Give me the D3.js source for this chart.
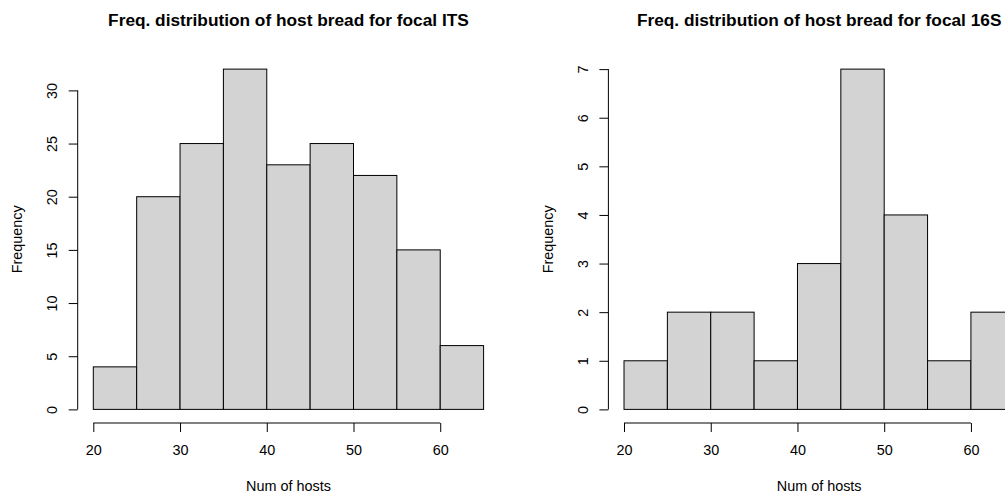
<!DOCTYPE html>
<html>
<head>
<meta charset="utf-8">
<script src="https://cdn.jsdelivr.net/npm/d3@7"></script>
<style>
  html, body { margin: 0; padding: 0; background: #ffffff; }
  svg { display: block; font-family: "Liberation Sans", Arial, Helvetica, sans-serif; }
</style>
</head>
<body>
<svg id="chart" width="1005" height="495"></svg>
<script>
// Histogram bins (lower edges, width 5) shared by both panels
const binStarts = [20, 25, 30, 35, 40, 45, 50, 55, 60];
const binWidth = 5;

// Counts per bin
const countsITS = [4, 20, 25, 32, 23, 25, 22, 15, 6];
const counts16S = [1, 2, 2, 1, 3, 7, 4, 1, 2];

// Axis ticks
const xTicks = [20, 30, 40, 50, 60];
const yTicksITS = [0, 5, 10, 15, 20, 25, 30];
const yTicks16S = [0, 1, 2, 3, 4, 5, 6, 7];

const titles = [
  "Freq. distribution of host bread for focal ITS",
  "Freq. distribution of host bread for focal 16S"
];
const xLabel = "Num of hosts";
const yLabel = "Frequency";

const svg = d3.select("#chart");
const fontSize = 14.4;

const panels = [
  { offset: 0, counts: countsITS, yTicks: yTicksITS, yMax: 32, title: titles[0] },
  { offset: 530.7, counts: counts16S, yTicks: yTicks16S, yMax: 7, title: titles[1] }
];

panels.forEach(p => {
  const left = 77.7 + p.offset, right = 499.2 + p.offset;
  const top = 55.5, bottom = 423;
  const xMin = 20, xMax = 65;
  const xPad = (xMax - xMin) * 0.04, yPad = p.yMax * 0.04;

  const x = d3.scaleLinear().domain([xMin - xPad, xMax + xPad]).range([left, right]);
  const y = d3.scaleLinear().domain([-yPad, p.yMax + yPad]).range([bottom, top]);

  const g = svg.append("g");

  // bars
  g.selectAll("rect.bar")
    .data(binStarts.map((s, i) => ({ x0: s, x1: s + binWidth, n: p.counts[i] })))
    .join("rect")
    .attr("class", "bar")
    .attr("x", d => x(d.x0))
    .attr("width", d => x(d.x1) - x(d.x0))
    .attr("y", d => y(d.n))
    .attr("height", d => y(0) - y(d.n))
    .attr("fill", "#d3d3d3")
    .attr("stroke", "#000")
    .attr("stroke-width", 1);

  // x axis
  const xAxis = d3.axisBottom(x).tickValues(xTicks).tickSize(9).tickSizeOuter(0).tickPadding(13);
  const gx = g.append("g").attr("transform", `translate(0,${bottom})`).call(xAxis);
  gx.select(".domain").attr("d", `M${x(xTicks[0])},0H${x(xTicks[xTicks.length - 1])}`);
  gx.selectAll("text").attr("font-size", fontSize).attr("font-family", null).attr("fill", "#000");
  gx.selectAll("line, path").attr("stroke", "#000");

  // y axis with rotated labels
  const yAxis = d3.axisLeft(y).tickValues(p.yTicks).tickSize(9).tickSizeOuter(0);
  const gy = g.append("g").attr("transform", `translate(${left},0)`).call(yAxis);
  gy.select(".domain").attr("d", `M0,${y(p.yTicks[0])}V${y(p.yTicks[p.yTicks.length - 1])}`);
  gy.selectAll("text")
    .attr("x", null).attr("dy", null)
    .attr("transform", "translate(-20.2,0) rotate(-90)")
    .attr("text-anchor", "middle")
    .attr("font-size", fontSize).attr("font-family", null).attr("fill", "#000");
  gy.selectAll("line, path").attr("stroke", "#000");

  // title
  g.append("text")
    .attr("x", (left + right) / 2).attr("y", 26)
    .attr("text-anchor", "middle")
    .attr("font-weight", "bold")
    .attr("font-size", fontSize * 1.2)
    .text(p.title);

  // axis titles
  g.append("text")
    .attr("x", (left + right) / 2).attr("y", 490.5)
    .attr("text-anchor", "middle")
    .attr("font-size", fontSize)
    .text(xLabel);

  g.append("text")
    .attr("transform", `translate(${left - 55.5},${(top + bottom) / 2}) rotate(-90)`)
    .attr("text-anchor", "middle")
    .attr("font-size", fontSize)
    .text(yLabel);
});
</script>
</body>
</html>
